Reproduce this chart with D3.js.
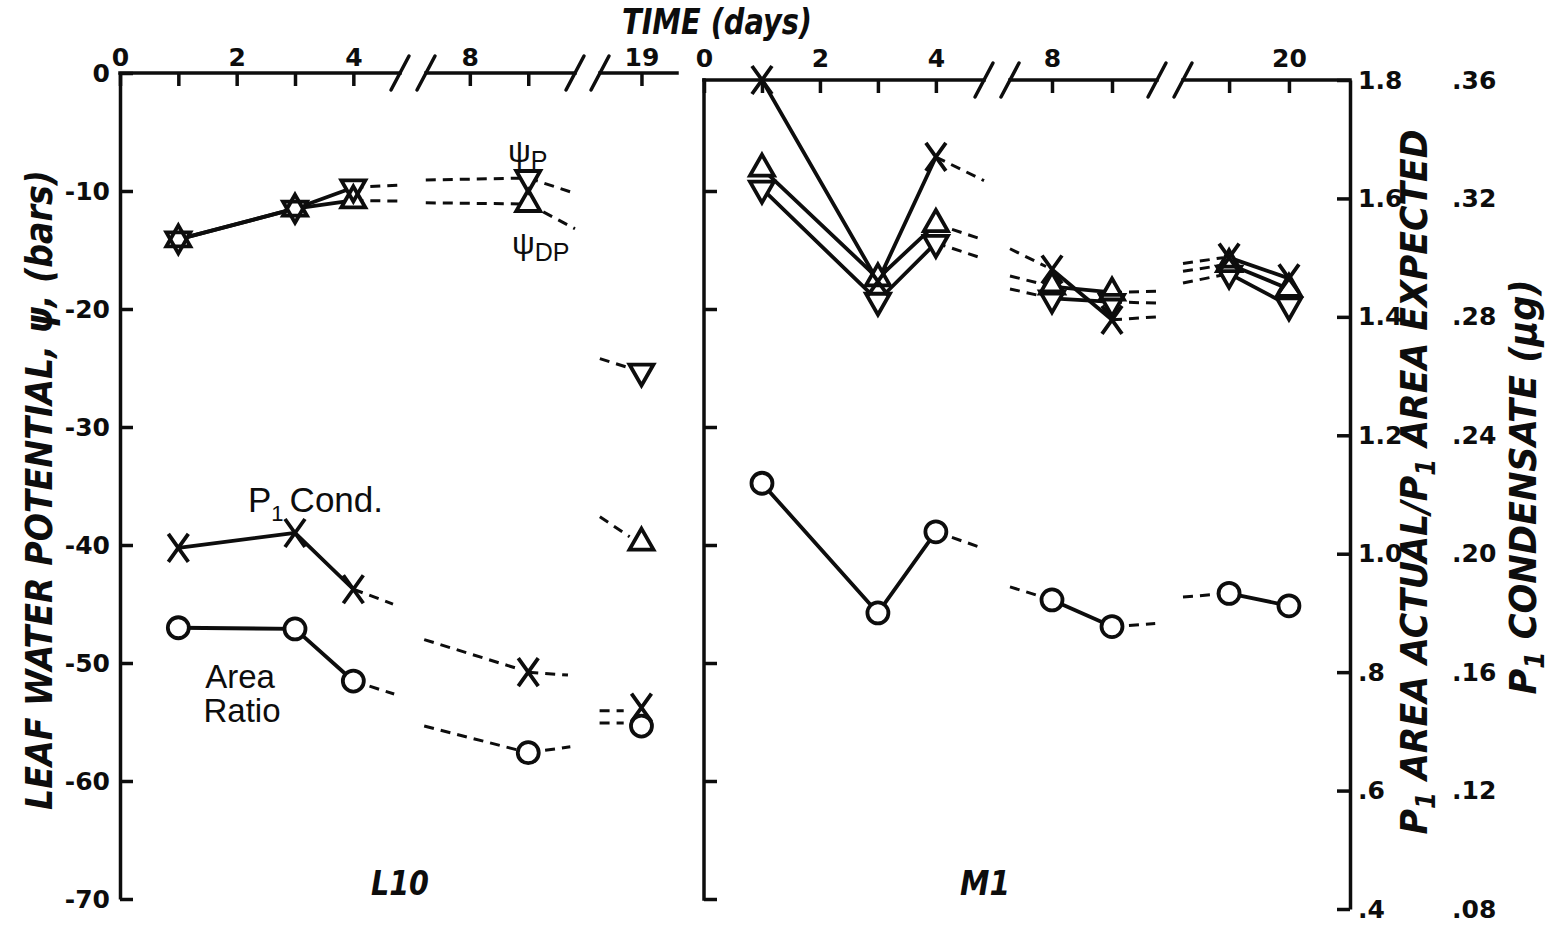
<!DOCTYPE html>
<html>
<head>
<meta charset="utf-8">
<script src="https://cdn.jsdelivr.net/npm/d3@7"></script>
<style>
  html, body { margin: 0; padding: 0; background: #fff; }
  svg { display: block; }
</style>
</head>
<body>
<svg id="chart" width="1556" height="927"></svg>
<script>
// ---------------- data ----------------
// Broken time axes: visible day ranges of each axis piece
const l10Segments = [[0, 4.8], [7.25, 9.8], [18.3, 19.6]];
const m1Segments  = [[0, 4.83], [7.3, 9.75], [18.23, 21.02]];

const l10TickDays  = [0, 1, 2, 3, 4, 8, 9, 19];
const l10LabelDays = [0, 2, 4, 8, 19];
const m1TickDays   = [0, 1, 2, 3, 4, 8, 9, 19, 20];
const m1LabelDays  = [0, 2, 4, 8, 20];

const psiTicks   = [0, -10, -20, -30, -40, -50, -60, -70];
const ratioTicks = [0.4, 0.6, 0.8, 1.0, 1.2, 1.4, 1.6, 1.8];
const condTicks  = [0.08, 0.12, 0.16, 0.20, 0.24, 0.28, 0.32, 0.36];

// L10
const l10Days  = [1, 3, 4, 9, 19];
const l10PsiP  = [-14.1, -11.5, -9.7, -8.9, -25.3];
const l10PsiDP = [-14.1, -11.5, -10.8, -11.1, -39.8];
const l10Cond  = [0.202, 0.207, 0.188, 0.160, 0.148];
const l10Ratio = [0.875, 0.873, 0.785, 0.664, 0.709];

// M1
const m1Days  = [1, 3, 4, 8, 9, 19, 20];
const m1PsiP  = [-9.8, -19.3, -14.4, -19.1, -19.4, -17.0, -19.7];
const m1PsiDP = [-8.1, -17.4, -12.8, -18.1, -18.6, -16.2, -18.3];
const m1Cond  = [0.360, 0.292, 0.334, 0.296, 0.279, 0.300, 0.293];
const m1Ratio = [1.119, 0.900, 1.037, 0.922, 0.877, 0.933, 0.912];

// Dashed trend stubs across axis breaks: [fromDay, fromValue, toDay, toValue]
const l10PsiPStubs  = [[4, -9.7, 4.77, -9.5], [7.23, -9.07, 9, -8.9], [9, -8.9, 9.8, -10.2], [18.25, -24.2, 18.8, -25.0]];
const l10PsiDPStubs = [[4, -10.8, 4.77, -10.85], [7.23, -11.0, 9, -11.1], [9, -11.1, 9.8, -13.2], [18.25, -37.6, 18.8, -39.3]];
const l10CondStubs  = [[4, 0.188, 4.68, 0.183], [7.08, 0.171, 8.85, 0.161], [9, 0.160, 9.68, 0.159], [18.16, 0.147, 18.7, 0.147]];
const l10RatioStubs = [[4, 0.785, 4.70, 0.763], [7.08, 0.709, 9, 0.664], [9, 0.664, 9.72, 0.674], [18.16, 0.714, 18.7, 0.714]];

const m1CondStubs  = [[4, 0.334, 4.83, 0.326], [7.3, 0.303, 7.9, 0.297], [9, 0.279, 9.75, 0.280], [18.23, 0.298, 18.9, 0.300]];
const m1PsiDPStubs = [[4, -12.8, 4.8, -14.1], [7.3, -17.2, 8, -18.1], [9, -18.6, 9.75, -18.5], [18.23, -16.8, 19, -16.2]];
const m1PsiPStubs  = [[4, -14.4, 4.8, -15.7], [7.3, -18.3, 8, -19.1], [9, -19.4, 9.75, -19.5], [18.23, -17.8, 19, -17.0]];
const m1RatioStubs = [[4, 1.037, 4.73, 1.012], [7.3, 0.944, 8, 0.922], [9, 0.877, 9.72, 0.882], [18.23, 0.927, 19, 0.933]];

// ---------------- layout ----------------
const INK = "#0d0d0d";
const svg = d3.select("#chart");

const xL = d3.scaleLinear().domain(l10Segments.flat()).range([120, 400, 426, 575, 600, 677]);
const xR = d3.scaleLinear().domain(m1Segments.flat()).range([704, 984, 1010, 1157, 1183, 1350]);
const yPsi   = d3.scaleLinear().domain([0, -70]).range([73, 899]);
const yRatio = d3.scaleLinear().domain([0.4, 1.8]).range([909, 80]);
const yCond  = d3.scaleLinear().domain([0.08, 0.36]).range([909, 80]);

const NUM_FONT = "'DejaVu Sans', sans-serif";
const TITLE_FONT = "'DejaVu Sans Condensed', 'DejaVu Sans', sans-serif";
const PLAIN_FONT = "'Liberation Sans', Arial, sans-serif";
const NUM_SIZE = 25;

function styleAxis(g, size) {
  g.selectAll("line, path").attr("stroke", INK).attr("stroke-width", 3.5);
  g.selectAll("text")
    .attr("fill", INK)
    .attr("font-family", NUM_FONT)
    .attr("font-weight", "bold")
    .attr("font-size", size);
}

// top time axis with breaks
function timeAxis(x, ticks, labels, segments, y0, pad) {
  const g = svg.append("g").attr("transform", `translate(0,${y0})`);
  g.call(d3.axisTop(x).tickValues(ticks).tickSizeInner(-13).tickSizeOuter(0).tickPadding(pad)
    .tickFormat(d => labels.includes(d) ? String(d) : ""));
  g.select(".domain").remove();
  styleAxis(g, NUM_SIZE);
  segments.forEach(([a, b], i) => {
    g.append("line")
      .attr("x1", x(a)).attr("x2", x(b)).attr("y1", 0).attr("y2", 0)
      .attr("stroke", INK).attr("stroke-width", 3.5).attr("stroke-linecap", "square");
    // break slashes on the inner ends
    const ends = [];
    if (i > 0) ends.push(x(a));
    if (i < segments.length - 1) ends.push(x(b));
    ends.forEach(px => {
      g.append("line")
        .attr("x1", px - 9).attr("y1", 17).attr("x2", px + 9).attr("y2", -17)
        .attr("stroke", INK).attr("stroke-width", 3.5).attr("stroke-linecap", "round");
    });
  });
}

timeAxis(xL, l10TickDays, l10LabelDays, l10Segments, yPsi(0), 7);
timeAxis(xR, m1TickDays, m1LabelDays, m1Segments, yRatio(1.8), 13);

// left panel: leaf water potential axis
{
  const g = svg.append("g").attr("transform", `translate(${xL(0)},0)`);
  g.call(d3.axisLeft(yPsi).tickValues(psiTicks).tickSizeInner(-13).tickSizeOuter(0).tickPadding(10)
    .tickFormat(d => String(d)));
  styleAxis(g, NUM_SIZE);
}

// right panel: unlabelled potential ticks on its left edge
{
  const g = svg.append("g").attr("transform", `translate(${xR(0)},0)`);
  g.call(d3.axisLeft(yPsi).tickValues(psiTicks.slice(1)).tickSizeInner(-13).tickSizeOuter(0)
    .tickFormat(() => ""));
  g.select(".domain").remove();
  styleAxis(g, NUM_SIZE);
  g.append("line").attr("x1", 0).attr("x2", 0).attr("y1", yRatio(1.8)).attr("y2", yPsi(-70))
    .attr("stroke", INK).attr("stroke-width", 3.5).attr("stroke-linecap", "square");
}

// right panel: area ratio axis
{
  const g = svg.append("g").attr("transform", `translate(${xR(21.02)},0)`);
  g.call(d3.axisRight(yRatio).tickValues(ratioTicks).tickSizeInner(-13).tickSizeOuter(0).tickPadding(8)
    .tickFormat(d => d >= 1 ? d.toFixed(1) : d.toFixed(1).replace(/^0/, "")));
  styleAxis(g, NUM_SIZE);
}

// condensate scale (labels only)
{
  const g = svg.append("g").attr("transform", "translate(1452,0)");
  g.call(d3.axisRight(yCond).tickValues(condTicks).tickSize(0).tickPadding(0)
    .tickFormat(d => d.toFixed(2).replace(/^0/, "")));
  g.select(".domain").remove();
  styleAxis(g, NUM_SIZE);
}

// ---------------- series ----------------
const lineLayer = svg.append("g");
const stubLayer = svg.append("g");
const markFill = svg.append("g");
const markLine = svg.append("g");

const TRI_W = 24, TRI_H = 21;
const markerPaths = {
  up:   `M0,${-TRI_H * 2 / 3}L${TRI_W / 2},${TRI_H / 3}L${-TRI_W / 2},${TRI_H / 3}Z`,
  down: `M0,${TRI_H * 2 / 3}L${TRI_W / 2},${-TRI_H / 3}L${-TRI_W / 2},${-TRI_H / 3}Z`,
  cross: "M-10,-14L10,14M10,-14L-10,14",
  circle: d3.symbol().type(d3.symbolCircle).size(Math.PI * 10.5 * 10.5)()
};

function series(x, y, days, values, segments, marker, stubs) {
  const pts = days.map((d, i) => [d, values[i]]);
  segments.forEach(([a, b]) => {
    const seg = pts.filter(p => p[0] >= a && p[0] <= b);
    if (seg.length > 1) {
      lineLayer.append("path")
        .attr("d", d3.line().x(p => x(p[0])).y(p => y(p[1]))(seg))
        .attr("fill", "none").attr("stroke", INK).attr("stroke-width", 3.8)
        .attr("stroke-linejoin", "round");
    }
  });
  stubs.forEach(s => {
    stubLayer.append("line")
      .attr("x1", x(s[0])).attr("y1", y(s[1])).attr("x2", x(s[2])).attr("y2", y(s[3]))
      .attr("stroke", INK).attr("stroke-width", 3).attr("stroke-dasharray", "10,7");
  });
  pts.forEach(p => {
    const t = `translate(${x(p[0])},${y(p[1])})`;
    if (marker !== "cross") {
      markFill.append("path").attr("d", markerPaths[marker]).attr("transform", t)
        .attr("fill", "#fff").attr("stroke", "none");
    }
    markLine.append("path").attr("d", markerPaths[marker]).attr("transform", t)
      .attr("fill", "none").attr("stroke", INK).attr("stroke-width", 3.8)
      .attr("stroke-linejoin", "miter");
  });
}

series(xL, yPsi, l10Days, l10PsiDP, l10Segments, "up", l10PsiDPStubs);
series(xL, yPsi, l10Days, l10PsiP, l10Segments, "down", l10PsiPStubs);
series(xL, yCond, l10Days, l10Cond, l10Segments, "cross", l10CondStubs);
series(xL, yRatio, l10Days, l10Ratio, l10Segments, "circle", l10RatioStubs);

series(xR, yPsi, m1Days, m1PsiDP, m1Segments, "up", m1PsiDPStubs);
series(xR, yPsi, m1Days, m1PsiP, m1Segments, "down", m1PsiPStubs);
series(xR, yCond, m1Days, m1Cond, m1Segments, "cross", m1CondStubs);
series(xR, yRatio, m1Days, m1Ratio, m1Segments, "circle", m1RatioStubs);

// ---------------- titles and labels ----------------
function title(tx, ty, rot, len, size, parts) {
  const t = svg.append("text")
    .attr("transform", `translate(${tx},${ty}) rotate(${rot})`)
    .attr("text-anchor", "middle")
    .attr("font-family", TITLE_FONT)
    .attr("font-style", "oblique")
    .attr("font-weight", "bold")
    .attr("font-size", size)
    .attr("fill", INK)
    .attr("textLength", len)
    .attr("lengthAdjust", "spacingAndGlyphs");
  parts.forEach(([s, sub]) => {
    const sp = t.append("tspan").text(s);
    if (sub === 1) sp.attr("dy", size * 0.22).attr("font-size", size * 0.7);
    if (sub === -1) sp.attr("dy", -size * 0.22);
  });
  return t;
}

title(717, 34, 0, 190, 35, [["TIME (days)"]]);
title(52, 490, -90, 640, 38, [["LEAF WATER POTENTIAL, \u03C8, (bars)"]]);
title(1427, 482, -90, 705, 38, [["P"], ["1", 1], [" AREA ACTUAL/P", -1], ["1", 1], [" AREA EXPECTED", -1]]);
title(1536, 487, -90, 415, 38, [["P"], ["1", 1], [" CONDENSATE (\u03BCg)", -1]]);

title(400, 895, 0, 58, 34, [["L10"]]);
title(985, 895, 0, 50, 34, [["M1"]]);

// ψ labels in the L10 panel
function psiLabel(x, y, sub) {
  const t = svg.append("text").attr("x", x).attr("y", y)
    .attr("font-family", PLAIN_FONT).attr("font-size", 32).attr("fill", INK);
  t.append("tspan").text("\u03C8");
  t.append("tspan").attr("dy", 7).attr("font-size", 25).text(sub);
}
psiLabel(508, 162, "P");
psiLabel(512, 254, "DP");

// P1 Cond. and Area Ratio annotations
{
  const t = svg.append("text").attr("x", 248).attr("y", 512)
    .attr("font-family", PLAIN_FONT).attr("font-size", 35).attr("fill", INK);
  t.append("tspan").text("P");
  t.append("tspan").attr("dy", 9).attr("font-size", 22).text("1");
  t.append("tspan").attr("dy", -9).attr("dx", 6).text("Cond.");
}
svg.append("text").attr("x", 240).attr("y", 688).attr("text-anchor", "middle")
  .attr("font-family", PLAIN_FONT).attr("font-size", 33).attr("fill", INK).text("Area");
svg.append("text").attr("x", 242).attr("y", 722).attr("text-anchor", "middle")
  .attr("font-family", PLAIN_FONT).attr("font-size", 33).attr("fill", INK).text("Ratio");
</script>
</body>
</html>
